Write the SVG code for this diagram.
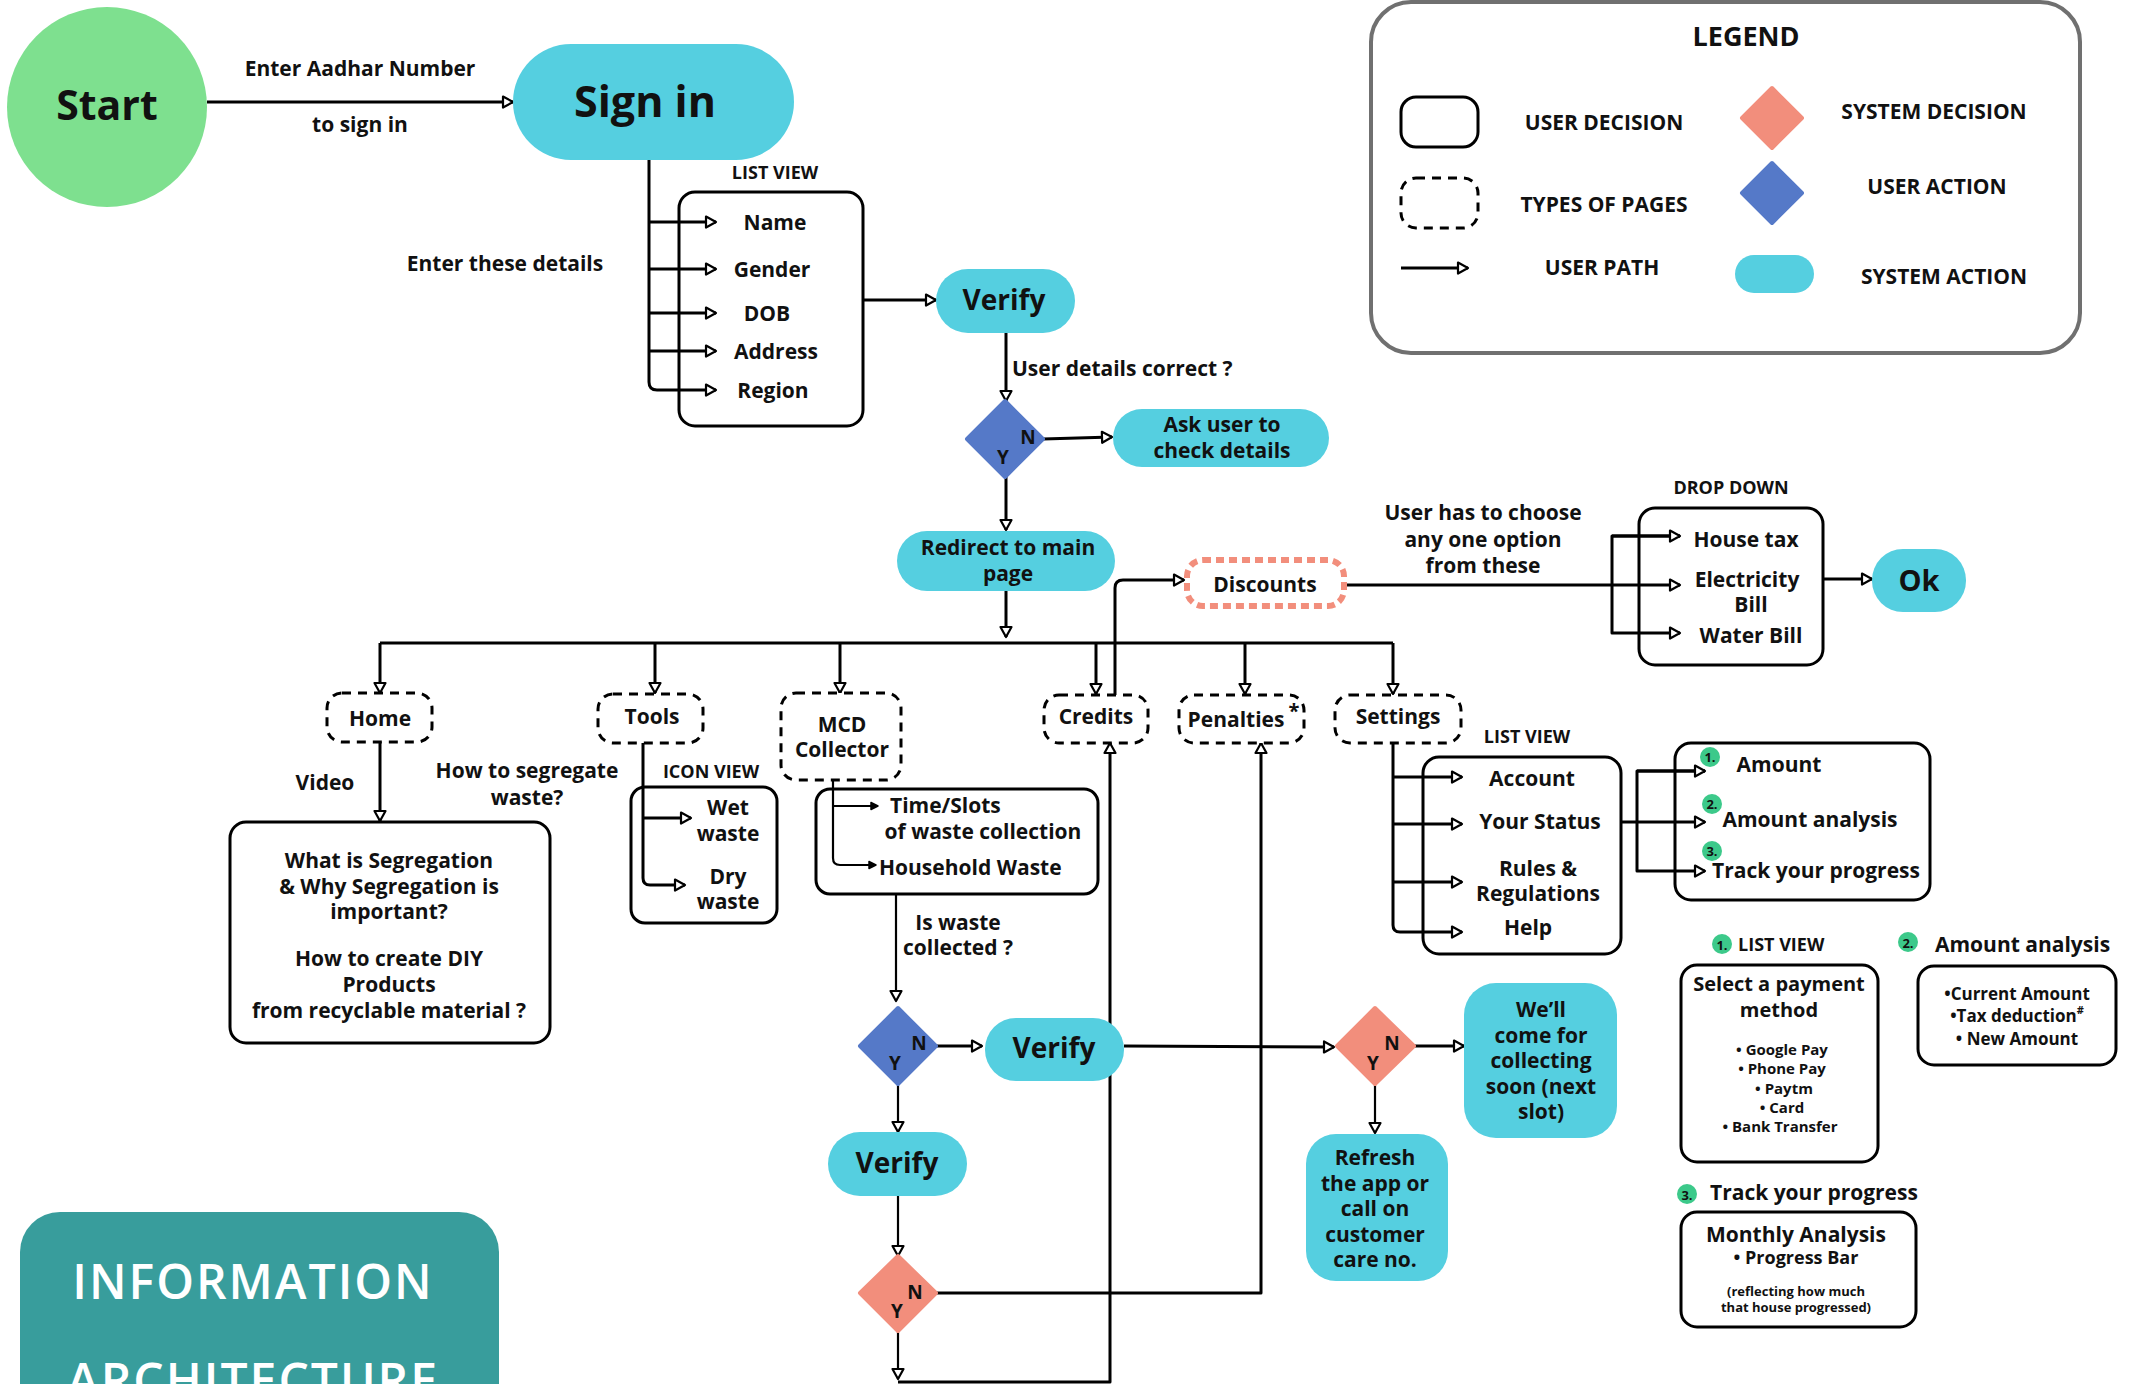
<svg xmlns="http://www.w3.org/2000/svg" width="2136" height="1384" viewBox="0 0 2136 1384">
<defs>
<style>
.t{font-family:"Open Sans","Liberation Sans",sans-serif;font-weight:700;fill:#111;text-anchor:middle;dominant-baseline:central;font-size:21px}
.s{text-anchor:start}
.sm{font-size:18px}
.yn{font-size:19px}
.ln{fill:none;stroke:#000;stroke-width:3;stroke-linejoin:round}
.lt{fill:none;stroke:#000;stroke-width:2.2}
.box{fill:#fff;stroke:#000;stroke-width:3}
.page{fill:#fff;stroke:#000;stroke-width:3;stroke-dasharray:9 7}
.cy{fill:#55CFE0}
.bl{fill:#5579C8}
.sa{fill:#F28E7C}
.bd{fill:#3CC98A}
.bn{font-size:13px}
</style>
<marker id="arr" viewBox="0 0 14 14" refX="12" refY="7" markerWidth="14" markerHeight="14" markerUnits="userSpaceOnUse" orient="auto" overflow="visible">
<path d="M2,1.5 L12,7 L2,12.5 Z" fill="#fff" stroke="#000" stroke-width="2.2" stroke-linejoin="round"/>
</marker>
<marker id="arrs" viewBox="0 0 10 10" refX="9" refY="5" markerWidth="10" markerHeight="10" markerUnits="userSpaceOnUse" orient="auto" overflow="visible">
<path d="M2,1.5 L9,5 L2,8.5 Z" fill="#000" stroke="#000" stroke-width="1.5" stroke-linejoin="round"/>
</marker>
</defs>
<rect width="2136" height="1384" fill="#fff"/>

<g id="connectors">
<path class="ln" d="M207,102 H513" marker-end="url(#arr)"/>
<path class="ln" d="M649,160 V382 Q649,390 657,390 H716" marker-end="url(#arr)"/>
<path class="ln" d="M649,222 H716" marker-end="url(#arr)"/>
<path class="ln" d="M649,269 H716" marker-end="url(#arr)"/>
<path class="ln" d="M649,313 H716" marker-end="url(#arr)"/>
<path class="ln" d="M649,351 H716" marker-end="url(#arr)"/>
<path class="ln" d="M863,300 H936" marker-end="url(#arr)"/>
<path class="ln" d="M1006,333 V401" marker-end="url(#arr)"/>
<path class="ln" d="M1043,439 L1112,437" marker-end="url(#arr)"/>
<path class="ln" d="M1006,477 V530" marker-end="url(#arr)"/>
<path class="ln" d="M1006,591 V637" marker-end="url(#arr)"/>
<path class="ln" d="M380,643 H1393"/>
<path class="ln" d="M380,643 V693" marker-end="url(#arr)"/>
<path class="ln" d="M655,643 V693" marker-end="url(#arr)"/>
<path class="ln" d="M840,643 V693" marker-end="url(#arr)"/>
<path class="ln" d="M1096,643 V694" marker-end="url(#arr)"/>
<path class="ln" d="M1245,643 V694" marker-end="url(#arr)"/>
<path class="ln" d="M1393,643 V694" marker-end="url(#arr)"/>
<path class="ln" d="M1115,695 V588 Q1115,580 1123,580 H1184" marker-end="url(#arr)"/>
<path class="ln" d="M1347,585 H1680" marker-end="url(#arr)"/>
<path class="ln" d="M1680,536 H1612 V633 H1680" marker-end="url(#arr)"/>
<path class="ln" d="M1612,536 H1680" marker-end="url(#arr)"/>
<path class="ln" d="M1823,579 H1872" marker-end="url(#arr)"/>
<path class="ln" d="M380,742 V821" marker-end="url(#arr)"/>
<path class="ln" d="M643,743 V878 Q643,885 650,885 H685" marker-end="url(#arr)"/>
<path class="ln" d="M643,818 H691" marker-end="url(#arr)"/>
<path class="lt" d="M833,780 V858 Q833,865 840,865 H876" marker-end="url(#arrs)"/>
<path class="lt" d="M833,806 H878" marker-end="url(#arrs)"/>
<path class="lt" d="M896,894 V1001" marker-end="url(#arr)"/>
<path class="ln" d="M935,1046 L982,1046" marker-end="url(#arr)"/>
<path class="ln" d="M1124,1046 L1334,1047" marker-end="url(#arr)"/>
<path class="ln" d="M1414,1046 H1464" marker-end="url(#arr)"/>
<path class="lt" d="M1375,1084 V1133" marker-end="url(#arr)"/>
<path class="lt" d="M898,1084 V1132" marker-end="url(#arr)"/>
<path class="lt" d="M898,1196 V1256" marker-end="url(#arr)"/>
<path class="lt" d="M898,1331 V1379" marker-end="url(#arr)"/>
<path class="ln" d="M898,1382 H1110 V743" marker-end="url(#arr)"/>
<path class="ln" d="M936,1293 H1261 V743" marker-end="url(#arr)"/>
<path class="ln" d="M1393,743 V925 Q1393,932 1400,932 H1462" marker-end="url(#arr)"/>
<path class="ln" d="M1393,777 H1462" marker-end="url(#arr)"/>
<path class="ln" d="M1393,824 H1462" marker-end="url(#arr)"/>
<path class="ln" d="M1393,882 H1462" marker-end="url(#arr)"/>
<path class="ln" d="M1621,822 H1705" marker-end="url(#arr)"/>
<path class="ln" d="M1705,771 H1637 V871 H1705" marker-end="url(#arr)"/>
<path class="ln" d="M1637,771 H1705" marker-end="url(#arr)"/>
<text class="t" x="360" y="68">Enter Aadhar Number</text>
<text class="t" x="360" y="124">to sign in</text>
<text class="t" x="505" y="263">Enter these details</text>
<text class="t s" x="1012" y="368">User details correct ?</text>
<text class="t" x="1483" y="512">User has to choose</text>
<text class="t" x="1483" y="539">any one option</text>
<text class="t" x="1483" y="565">from these</text>
<text class="t" x="325" y="782">Video</text>
<text class="t" x="527" y="770">How to segregate</text>
<text class="t" x="527" y="797">waste?</text>
<text class="t" x="958" y="922">Is waste</text>
<text class="t" x="958" y="947">collected ?</text>
</g>

<g id="start"><circle cx="107" cy="107" r="100" fill="#7EE08F"/><text class="t" x="107" y="104" style="font-size:41px">Start</text></g>
<g id="signin"><rect class="cy" x="513" y="44" width="281" height="116" rx="58"/><text class="t" x="645" y="100" style="font-size:43px">Sign in</text></g>

<g id="details-list">
<text class="t sm" x="775" y="172">LIST VIEW</text>
<rect x="679" y="192" width="184" height="234" rx="16" fill="none" stroke="#000" stroke-width="3"/>
<text class="t" x="775" y="222">Name</text>
<text class="t" x="772" y="269">Gender</text>
<text class="t" x="767" y="313">DOB</text>
<text class="t" x="776" y="351">Address</text>
<text class="t" x="773" y="390">Region</text>
</g>

<g id="verify1"><rect class="cy" x="936" y="269" width="139" height="64" rx="32"/><text class="t" x="1004" y="299" style="font-size:28px">Verify</text></g>
<g id="decision1"><path class="bl" d="M1005,401 L1043,439 L1005,477 L967,439 Z" stroke="#5579C8" stroke-width="4" stroke-linejoin="round"/><text class="t yn" x="1028" y="437">N</text><text class="t yn" x="1003" y="457">Y</text></g>
<g id="askuser"><rect class="cy" x="1113" y="409" width="216" height="58" rx="29"/><text class="t" x="1222" y="424">Ask user to</text><text class="t" x="1222" y="450">check details</text></g>
<g id="redirect"><rect class="cy" x="897" y="531" width="218" height="60" rx="30"/><text class="t" x="1008" y="547">Redirect to main</text><text class="t" x="1008" y="573">page</text></g>
<g id="discounts"><rect x="1187" y="560" width="157" height="46" rx="16" fill="#fff" stroke="#F28E7C" stroke-width="6" stroke-dasharray="8 5"/><text class="t" x="1265" y="584">Discounts</text></g>

<g id="dropdown">
<text class="t sm" x="1731" y="487">DROP DOWN</text>
<rect x="1639" y="508" width="184" height="157" rx="16" fill="none" stroke="#000" stroke-width="3"/>
<text class="t" x="1746" y="539">House tax</text>
<text class="t" x="1747" y="579">Electricity</text>
<text class="t" x="1751" y="604">Bill</text>
<text class="t" x="1751" y="635">Water Bill</text>
</g>
<g id="ok"><rect class="cy" x="1872" y="549" width="94" height="63" rx="31"/><text class="t" x="1919" y="579" style="font-size:29px">Ok</text></g>

<g id="home"><rect class="page" x="327" y="693" width="105" height="49" rx="15"/><text class="t" x="380" y="718">Home</text></g>
<g id="tools"><rect class="page" x="598" y="694" width="105" height="49" rx="15"/><text class="t" x="652" y="716">Tools</text></g>
<g id="mcd"><rect class="page" x="781" y="693" width="120" height="87" rx="15"/><text class="t" x="842" y="724">MCD</text><text class="t" x="842" y="749">Collector</text></g>
<g id="credits"><rect class="page" x="1044" y="695" width="104" height="48" rx="15"/><text class="t" x="1096" y="716">Credits</text></g>
<g id="penalties"><rect class="page" x="1179" y="695" width="125" height="48" rx="15"/><text class="t" x="1236" y="719">Penalties</text><text class="t" x="1294" y="710" style="font-size:20px">*</text></g>
<g id="settings"><rect class="page" x="1335" y="695" width="126" height="48" rx="15"/><text class="t" x="1398" y="716">Settings</text></g>

<g id="home-content">
<rect class="box" x="230" y="822" width="320" height="221" rx="16" fill="none"/>
<text class="t" x="389" y="860">What is Segregation</text>
<text class="t" x="389" y="886">&amp; Why Segregation is</text>
<text class="t" x="389" y="911">important?</text>
<text class="t" x="389" y="958">How to create DIY</text>
<text class="t" x="389" y="984">Products</text>
<text class="t" x="389" y="1010">from recyclable material ?</text>
</g>

<g id="tools-content">
<text class="t sm" x="711" y="771">ICON VIEW</text>
<rect x="631" y="787" width="146" height="136" rx="14" fill="none" stroke="#000" stroke-width="3"/>
<text class="t" x="728" y="807">Wet</text>
<text class="t" x="728" y="833">waste</text>
<text class="t" x="728" y="876">Dry</text>
<text class="t" x="728" y="901">waste</text>
</g>

<g id="mcd-content">
<rect x="816" y="789" width="282" height="105" rx="14" fill="none" stroke="#000" stroke-width="3"/>
<text class="t s" x="890" y="805">Time/Slots</text>
<text class="t" x="983" y="831">of waste collection</text>
<text class="t s" x="879" y="867">Household Waste</text>
</g>

<g id="decision2"><path class="bl" d="M898,1008 L936,1046 L898,1084 L860,1046 Z" stroke="#5579C8" stroke-width="4" stroke-linejoin="round"/><text class="t yn" x="919" y="1043">N</text><text class="t yn" x="895" y="1063">Y</text></g>
<g id="verify2"><rect class="cy" x="985" y="1018" width="139" height="63" rx="31"/><text class="t" x="1054" y="1047" style="font-size:28px">Verify</text></g>
<g id="verify3"><rect class="cy" x="828" y="1132" width="139" height="64" rx="32"/><text class="t" x="897" y="1162" style="font-size:28px">Verify</text></g>
<g id="decision3"><path class="sa" d="M898,1256 L936,1293 L898,1331 L860,1293 Z" stroke="#F28E7C" stroke-width="4" stroke-linejoin="round"/><text class="t yn" x="915" y="1292">N</text><text class="t yn" x="897" y="1311">Y</text></g>
<g id="decision4"><path class="sa" d="M1375,1008 L1414,1046 L1375,1084 L1337,1046 Z" stroke="#F28E7C" stroke-width="4" stroke-linejoin="round"/><text class="t yn" x="1392" y="1043">N</text><text class="t yn" x="1373" y="1063">Y</text></g>
<g id="wellcome"><rect class="cy" x="1464" y="983" width="153" height="155" rx="32"/>
<text class="t" x="1541" y="1009">We’ll</text><text class="t" x="1541" y="1035">come for</text><text class="t" x="1541" y="1060">collecting</text><text class="t" x="1541" y="1086">soon (next</text><text class="t" x="1541" y="1111">slot)</text></g>
<g id="refresh"><rect class="cy" x="1306" y="1134" width="142" height="147" rx="30"/>
<text class="t" x="1375" y="1157">Refresh</text><text class="t" x="1375" y="1183">the app or</text><text class="t" x="1375" y="1208">call on</text><text class="t" x="1375" y="1234">customer</text><text class="t" x="1375" y="1259">care no.</text></g>

<g id="settings-list">
<text class="t sm" x="1527" y="736">LIST VIEW</text>
<rect x="1423" y="757" width="198" height="197" rx="16" fill="none" stroke="#000" stroke-width="3"/>
<text class="t" x="1532" y="778">Account</text>
<text class="t" x="1540" y="821">Your Status</text>
<text class="t" x="1538" y="868">Rules &amp;</text>
<text class="t" x="1538" y="893">Regulations</text>
<text class="t" x="1528" y="927">Help</text>
</g>

<g id="status-list">
<rect x="1675" y="743" width="255" height="157" rx="16" fill="none" stroke="#000" stroke-width="3"/>
<circle class="bd" cx="1710" cy="757" r="10"/><text class="t bn" x="1710" y="757">1.</text>
<circle class="bd" cx="1712" cy="804" r="10"/><text class="t bn" x="1712" y="804">2.</text>
<circle class="bd" cx="1712" cy="851" r="10"/><text class="t bn" x="1712" y="851">3.</text>
<text class="t" x="1779" y="764">Amount</text>
<text class="t" x="1810" y="819">Amount analysis</text>
<text class="t" x="1816" y="870">Track your progress</text>
</g>

<g id="payment">
<circle class="bd" cx="1722" cy="944" r="10"/><text class="t bn" x="1722" y="945">1.</text>
<text class="t s sm" x="1738" y="944">LIST VIEW</text>
<rect x="1681" y="965" width="197" height="197" rx="16" fill="none" stroke="#000" stroke-width="3"/>
<text class="t" x="1779" y="983" style="font-size:20px">Select a payment</text>
<text class="t" x="1779" y="1009" style="font-size:20px">method</text>
<text class="t" x="1782" y="1049" style="font-size:15px">• Google Pay</text>
<text class="t" x="1782" y="1068" style="font-size:15px">• Phone Pay</text>
<text class="t" x="1784" y="1088" style="font-size:15px">• Paytm</text>
<text class="t" x="1782" y="1107" style="font-size:15px">• Card</text>
<text class="t" x="1780" y="1126" style="font-size:15px">• Bank Transfer</text>
</g>

<g id="amount-analysis">
<circle class="bd" cx="1908" cy="942" r="10"/><text class="t bn" x="1908" y="943">2.</text>
<text class="t s" x="1935" y="944">Amount analysis</text>
<rect x="1918" y="966" width="198" height="99" rx="16" fill="none" stroke="#000" stroke-width="3"/>
<text class="t" x="2017" y="993" style="font-size:17px">•Current Amount</text>
<text class="t" x="2017" y="1015" style="font-size:17px">•Tax deduction<tspan dy="-6" style="font-size:11px">#</tspan></text>
<text class="t" x="2017" y="1038" style="font-size:17px">• New Amount</text>
</g>

<g id="track-progress">
<circle class="bd" cx="1687" cy="1194" r="10"/><text class="t bn" x="1687" y="1195">3.</text>
<text class="t s" x="1710" y="1192">Track your progress</text>
<rect x="1681" y="1212" width="235" height="115" rx="16" fill="none" stroke="#000" stroke-width="3"/>
<text class="t" x="1796" y="1234">Monthly Analysis</text>
<text class="t" x="1796" y="1257" style="font-size:18px">• Progress Bar</text>
<text class="t" x="1796" y="1291" style="font-size:13px">(reflecting how much</text>
<text class="t" x="1796" y="1307" style="font-size:13px">that house progressed)</text>
</g>

<g id="legend">
<rect x="1371" y="2" width="709" height="351" rx="40" fill="none" stroke="#707070" stroke-width="4"/>
<text class="t" x="1746" y="35" style="font-size:27px">LEGEND</text>
<rect x="1401" y="97" width="77" height="50" rx="15" fill="none" stroke="#000" stroke-width="3"/>
<text class="t" x="1604" y="122">USER DECISION</text>
<rect class="page" x="1401" y="178" width="77" height="50" rx="15"/>
<text class="t" x="1604" y="204">TYPES OF PAGES</text>
<path class="ln" d="M1401,268 H1468" marker-end="url(#arr)"/>
<text class="t" x="1602" y="267">USER PATH</text>
<path class="sa" d="M1772,88 L1802,118 L1772,148 L1742,118 Z" stroke="#F28E7C" stroke-width="4" stroke-linejoin="round"/>
<text class="t" x="1934" y="111">SYSTEM DECISION</text>
<path class="bl" d="M1772,163 L1802,193 L1772,223 L1742,193 Z" stroke="#5579C8" stroke-width="4" stroke-linejoin="round"/>
<text class="t" x="1937" y="186">USER ACTION</text>
<rect class="cy" x="1735" y="255" width="79" height="38" rx="19"/>
<text class="t" x="1944" y="276">SYSTEM ACTION</text>
</g>

<g id="title">
<rect x="20" y="1212" width="479" height="220" rx="40" fill="#389D9C"/>
<text x="253" y="1299" style="font-family:'Open Sans','Liberation Sans',sans-serif;font-weight:600;font-size:48px;fill:#fff;text-anchor:middle;letter-spacing:2px">INFORMATION</text>
<text x="253" y="1398" style="font-family:'Open Sans','Liberation Sans',sans-serif;font-weight:600;font-size:48px;fill:#fff;text-anchor:middle;letter-spacing:2px">ARCHITECTURE</text>
</g>
</svg>
